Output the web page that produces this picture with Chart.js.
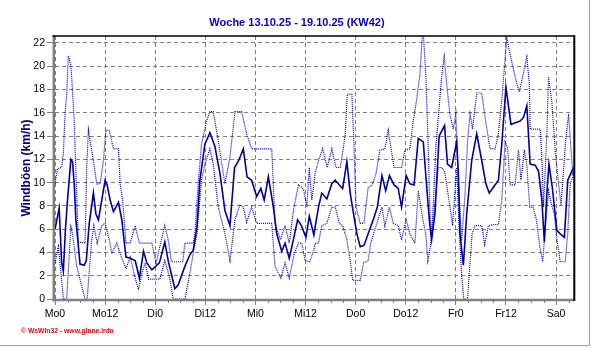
<!DOCTYPE html>
<html>
<head>
<meta charset="utf-8">
<title>Windböen KW42</title>
<script src="https://cdn.jsdelivr.net/npm/chart.js@4.4.1/dist/chart.umd.min.js"></script>
<style>
  html, body { margin: 0; padding: 0; background: #fff; }
  canvas { display: block; }
</style>
</head>
<body>
<canvas id="wind" width="592" height="348"></canvas>
<script>
// x = Stunden ab Montag 0:00, y = Böen in km/h
const xTickHours = [0, 12, 24, 36, 48, 60, 72, 84, 96, 108, 120];
const xTickLabels = ['Mo0', 'Mo12', 'Di0', 'Di12', 'Mi0', 'Mi12', 'Do0', 'Do12', 'Fr0', 'Fr12', 'Sa0'];
const yTicks = [0, 2, 4, 6, 8, 10, 12, 14, 16, 18, 20, 22];

// Mittelwert (durchgezogen)
const meanHours = [0, 1, 1.6, 2, 2.5, 3, 3.8, 4.2, 4.6, 5,
  6, 7, 7.5, 8.2, 9.2, 9.8, 10.4, 12, 12.5, 13.2,
  14, 15.2, 16, 17, 18, 19.2, 20.2, 21.2, 22, 23.2,
  25, 26.3, 27.1, 28.7, 29.5, 31.1, 32.3, 33.1, 34, 34.7,
  35.9, 37.1, 38.3, 39.5, 40.7, 41.9, 43, 44, 45.1, 46,
  47.1, 48.3, 49.3, 50.1, 51.1, 52.3, 53.1, 54.3, 55.1, 56.1,
  57.1, 58.1, 59, 60.1, 60.9, 62, 63.1, 63.9, 65.1, 66.3,
  67.1, 68.1, 68.9, 69.9, 70.7, 71.6, 72.3, 73.1, 74, 75,
  76.3, 77.2, 78.3, 79.2, 80.1, 81.2, 82.2, 83, 84.1, 85,
  86, 87, 88.2, 88.9, 89.7, 90.2, 91, 92, 93.3, 94,
  95, 95.8, 96.2, 96.6, 97, 97.8, 98.1, 98.6, 99.8, 101,
  102.2, 103.2, 104, 105, 106.2, 107, 108, 108.6, 109.2, 111.4,
  112.2, 113, 113.8, 115, 115.8, 116.6, 117.2, 117.8, 118.3, 119.1,
  120.2, 121, 122, 122.8, 123.8, 124.3];
const meanKmh = [6.0, 7.8, 3.1, 2.4, 6.0, 8.5, 12.0, 11.8, 9.9, 6.8,
  3.0, 2.9, 3.3, 6.5, 9.1, 7.3, 6.8, 10.2, 9.8, 8.5,
  7.5, 8.3, 6.8, 3.6, 3.5, 3.3, 1.8, 4.1, 3.1, 2.5,
  3.1, 4.9, 3.3, 0.9, 1.2, 2.8, 3.8, 4.2, 6.2, 10.2,
  13.3, 14.3, 13.1, 10.8, 7.6, 6.3, 11.3, 11.9, 12.9, 10.5,
  10.2, 8.8, 9.5, 8.5, 10.5, 7.9, 5.6, 4.1, 4.8, 3.5,
  5.1, 6.8, 6.3, 5.3, 7.1, 5.5, 7.9, 9.1, 8.6, 9.9,
  10.2, 9.8, 9.5, 11.8, 9.1, 7.1, 5.6, 4.5, 4.6, 5.6,
  6.9, 7.9, 10.6, 9.3, 10.6, 9.8, 9.5, 7.9, 10.6, 9.9,
  9.8, 13.8, 13.5, 10.2, 6.6, 5.1, 7.3, 14.0, 14.9, 11.6,
  11.3, 12.8, 13.5, 10.8, 5.6, 2.9, 4.5, 7.3, 11.9, 14.2,
  11.9, 9.9, 9.1, 9.6, 10.2, 13.3, 18.2, 16.6, 15.0, 15.3,
  15.6, 16.6, 11.6, 11.5, 11.0, 8.5, 4.9, 9.1, 11.6, 9.6,
  5.9, 5.6, 5.3, 10.2, 11.0, 11.3];

// Maximum (gepunktet, oben)
const maxHours = [0, 0.6, 1.6, 2, 2.4, 2.8, 3.2, 3.8, 4.2, 4.6,
  5, 5.6, 7.2, 7.6, 8, 8.4, 9.2, 10, 10.8, 11.6,
  12.2, 13, 14, 15.2, 15.6, 16.2, 17, 18, 19.2, 20.2,
  23.2, 24.2, 25.1, 26.3, 27.1, 27.9, 30.6, 31.1, 33.1, 33.5,
  34.3, 35.1, 36.3, 37.1, 37.9, 39.1, 40.7, 41.9, 43.1, 44.7,
  45.9, 47.1, 51.9, 52.7, 54, 55.1, 56.1, 57.1, 58.3, 59.1,
  59.6, 60.3, 60.9, 61.5, 62.3, 63.1, 64.1, 65.2, 66.3, 67.3,
  68.3, 68.9, 69.5, 70, 71.1, 71.5, 72.1, 73.1, 74, 75,
  76, 76.9, 77.8, 79, 79.8, 80.4, 81.2, 83, 83.8, 85,
  85.8, 86.6, 87.4, 88.1, 88.8, 89.3, 89.8, 90.2, 90.7, 91.2,
  91.8, 92.6, 93.2, 93.8, 94.6, 95.4, 96, 96.6, 97.4, 98.2,
  98.8, 99.4, 100, 100.6, 101, 102.2, 103, 104.2, 105.4, 106.2,
  107, 108.2, 109.5, 110.6, 111.2, 112, 113, 113.6, 113.8, 116.2,
  116.6, 117, 117.8, 118.2, 119, 119.8, 120.6, 121.2, 122.3, 123,
  123.6, 124, 124.3];
const maxKmh = [9.9, 11.2, 11.3, 12.5, 15.9, 17.6, 20.9, 20.1, 17.8, 15.3,
  11.0, 4.9, 4.8, 11.3, 14.5, 13.6, 11.9, 9.9, 9.9, 11.9,
  14.5, 14.5, 12.9, 12.9, 9.9, 8.5, 4.8, 4.8, 6.3, 4.8,
  4.8, 3.1, 4.5, 6.3, 5.1, 3.2, 3.2, 4.8, 4.8, 5.6,
  9.9, 13.3, 15.3, 16.1, 16.1, 13.6, 9.9, 12.2, 16.1, 16.1,
  14.2, 12.9, 12.9, 6.5, 5.1, 6.3, 4.8, 7.6, 9.8, 9.6,
  9.3, 7.9, 11.3, 8.5, 10.8, 11.9, 12.9, 11.3, 12.9, 11.3,
  11.3, 12.6, 14.1, 17.6, 17.6, 14.2, 7.9, 6.5, 6.5, 9.6,
  9.8, 10.8, 12.8, 12.9, 14.5, 13.1, 11.3, 11.3, 12.8, 12.9,
  15.3, 17.1, 19.3, 23.5, 19.3, 14.0, 7.5, 5.2, 9.0, 13.0,
  15.6, 19.1, 20.8, 18.5, 15.8, 14.6, 15.9, 10.2, 5.0, 9.0,
  13.5, 15.9, 14.6, 16.5, 17.7, 17.7, 15.6, 12.9, 12.9, 14.2,
  17.1, 22.4, 20.2, 18.5, 17.8, 19.1, 20.8, 18.5, 14.6, 14.6,
  12.2, 7.9, 14.2, 19.1, 16.9, 12.8, 9.9, 8.1, 13.6, 15.9,
  12.8, 10.8, 11.0];

// Minimum (gepunktet, unten)
const minHours = [0, 0.8, 1.6, 2, 2.8, 3.8, 4.2, 5.2, 6.4, 7.2,
  7.7, 8.8, 9.3, 10.1, 11.2, 12, 13, 13.6, 14.8, 15.6,
  17, 18, 19.2, 20, 20.8, 21.6, 22.4, 25.1, 26.3, 27.4,
  28.3, 31.1, 32.3, 33.1, 34, 35.1, 35.9, 37.1, 37.9, 39.1,
  40.7, 41.9, 43.1, 44.3, 45.1, 45.9, 47.1, 48.3, 51.9, 52.7,
  54.1, 55.1, 56.1, 57.3, 58.3, 59.1, 59.9, 61, 62, 62.3,
  63.1, 63.9, 65.1, 66.3, 67.1, 68.1, 68.9, 69.9, 70.7, 71.3,
  73.1, 73.9, 75, 75.6, 76.9, 78.3, 79, 80.1, 81, 82.2,
  83, 84.1, 85, 86.2, 87, 88.1, 88.8, 89.3, 89.9, 90.5,
  91.2, 91.8, 92.6, 93.3, 94.6, 95.2, 95.8, 96.2, 96.8, 97.4,
  97.9, 98.8, 99.4, 99.9, 100.6, 102.2, 102.9, 103.8, 105, 106.2,
  107, 107.8, 108.4, 109, 110.2, 111, 111.6, 112.4, 113, 113.7,
  114.5, 115.3, 116.1, 116.8, 117.4, 118.2, 119, 119.6, 120.2, 121,
  122.2, 122.8, 123.4, 124.3];
const minKmh = [3.1, 4.5, 1.6, 0, 0, 6.2, 5.6, 2.8, 1.1, 0,
  0, 5.1, 6.3, 4.8, 6.3, 6.5, 5.1, 3.9, 4.8, 3.9,
  2.6, 3.6, 1.8, 0.8, 2.2, 3.1, 1.7, 1.7, 3.3, 1.9,
  0, 0, 2.2, 3.9, 5.6, 10.2, 11.6, 12.9, 11.6, 7.9,
  5.6, 3.3, 6.8, 8.1, 7.9, 6.6, 7.9, 6.5, 6.5, 2.8,
  1.8, 3.1, 1.8, 3.9, 4.8, 4.8, 3.3, 3.2, 4.2, 4.8,
  4.8, 6.3, 6.5, 7.9, 7.9, 6.5, 6.3, 5.1, 3.3, 1.6,
  1.6, 3.1, 3.3, 4.8, 6.3, 7.9, 6.3, 7.9, 6.5, 6.3,
  5.1, 6.8, 5.6, 4.8, 9.3, 6.8, 5.6, 3.3, 4.5, 6.5,
  9.0, 11.3, 11.3, 11.0, 7.9, 6.3, 9.3, 11.3, 6.0, 2.0,
  0, 0, 3.1, 5.6, 6.3, 6.3, 4.7, 6.3, 6.4, 6.4,
  8.5, 13.5, 13.0, 9.8, 9.8, 12.8, 10.2, 12.8, 11.5, 7.9,
  7.9, 6.8, 4.5, 3.2, 6.0, 9.3, 8.0, 7.3, 5.1, 3.2,
  3.2, 5.6, 9.9, 10.8];

const toPoints = (hours, vals) => hours.map((h, i) => ({ x: h, y: vals[i] }));

const FONT = "'Liberation Sans', Arial, sans-serif";
const GRID = '#808080';

// Rahmen, Achsen, Nebenstriche und Beschriftungen
const framePlugin = {
  id: 'frame',
  beforeDraw(chart) {
    const { ctx, width, height } = chart;
    ctx.save();
    ctx.fillStyle = '#fff';
    ctx.fillRect(0, 0, width, height);
    ctx.restore();
  },
  afterDraw(chart) {
    const { ctx, chartArea: a, scales: { x } } = chart;
    const line = (x1, y1, x2, y2) => {
      ctx.beginPath();
      ctx.moveTo(x1, y1);
      ctx.lineTo(x2, y2);
      ctx.stroke();
    };
    ctx.save();

    // Nebenstriche alle 3 Stunden
    ctx.strokeStyle = GRID;
    ctx.lineWidth = 1;
    for (let h = 3; h < x.max; h += 3) {
      if (h % 12 === 0) continue;
      const px = Math.round(x.getPixelForValue(h)) + 0.5;
      line(px, a.bottom, px, a.bottom + 4);
    }

    // linke und untere Achse
    ctx.lineWidth = 2.5;
    line(a.left - 1.2, a.top - 1, a.left - 1.2, a.bottom + 2.2);
    line(a.left - 2.5, a.bottom + 1, a.right, a.bottom + 1);

    // oberer und rechter Rand
    ctx.strokeStyle = '#000';
    ctx.lineWidth = 1.5;
    line(a.left - 2.5, a.top, a.right + 1, a.top);
    ctx.lineWidth = 2;
    line(a.right + 0.3, a.top - 0.7, a.right + 0.3, a.bottom + 2);

    // Bildrand
    ctx.strokeStyle = '#a0a0a0';
    ctx.lineWidth = 1;
    line(589.5, 0, 589.5, 346);
    line(0, 345.5, 590, 345.5);

    // Titel
    ctx.fillStyle = '#0000dd';
    ctx.font = 'bold 11px ' + FONT;
    ctx.textAlign = 'center';
    ctx.textBaseline = 'alphabetic';
    ctx.fillText('Woche 13.10.25 - 19.10.25 (KW42)', 297, 26);

    // y-Achsentitel
    ctx.save();
    ctx.translate(30, 168);
    ctx.rotate(-Math.PI / 2);
    ctx.fillStyle = '#000080';
    ctx.font = 'bold 12px ' + FONT;
    ctx.fillText('Windböen (km/h)', 0, 0);
    ctx.restore();

    // Copyright
    ctx.fillStyle = '#ff0000';
    ctx.font = 'bold 6.8px ' + FONT;
    ctx.textAlign = 'left';
    ctx.textBaseline = 'middle';
    ctx.fillText('© WsWin32 - www.glane.info', 21, 331);

    ctx.restore();
  }
};

new Chart(document.getElementById('wind'), {
  type: 'line',
  data: {
    datasets: [
      {
        label: 'Mittel',
        data: toPoints(meanHours, meanKmh),
        borderColor: '#0000a0',
        borderWidth: 1.6
      },
      {
        label: 'Max',
        data: toPoints(maxHours, maxKmh),
        borderColor: '#0000d0',
        borderWidth: 1.2,
        borderDash: [1, 1]
      },
      {
        label: 'Min',
        data: toPoints(minHours, minKmh),
        borderColor: '#0000d0',
        borderWidth: 1.2,
        borderDash: [1, 1]
      }
    ]
  },
  options: {
    responsive: false,
    animation: false,
    events: [],
    layout: { padding: { left: 0, right: 18, top: 36, bottom: 0 } },
    elements: {
      line: { tension: 0, fill: false },
      point: { radius: 0 }
    },
    plugins: {
      legend: { display: false },
      title: { display: false },
      tooltip: { enabled: false }
    },
    scales: {
      x: {
        type: 'linear',
        min: 0,
        max: 124.3,
        afterBuildTicks: (s) => { s.ticks = xTickHours.map(v => ({ value: v })); },
        afterFit: (s) => { s.height = 49; },
        border: { display: false, dash: [4, 3] },
        grid: { color: GRID, lineWidth: 1, tickLength: 6, tickColor: GRID, tickBorderDash: [] },
        ticks: {
          autoSkip: false,
          maxRotation: 0,
          padding: 3,
          color: '#000',
          font: { family: FONT, size: 10.5 },
          callback: (v, i) => xTickLabels[i]
        }
      },
      y: {
        min: 0,
        max: 22.6,
        afterBuildTicks: (s) => { s.ticks = yTicks.map(v => ({ value: v })); },
        afterFit: (s) => { s.width = 55; },
        border: { display: false, dash: [4, 3] },
        grid: { color: GRID, lineWidth: 1, tickLength: 8, tickColor: GRID, tickBorderDash: [] },
        ticks: {
          padding: 2,
          color: '#000',
          font: { family: FONT, size: 10.5 },
          callback: (v) => String(v)
        }
      }
    }
  },
  plugins: [framePlugin]
});
</script>
</body>
</html>
